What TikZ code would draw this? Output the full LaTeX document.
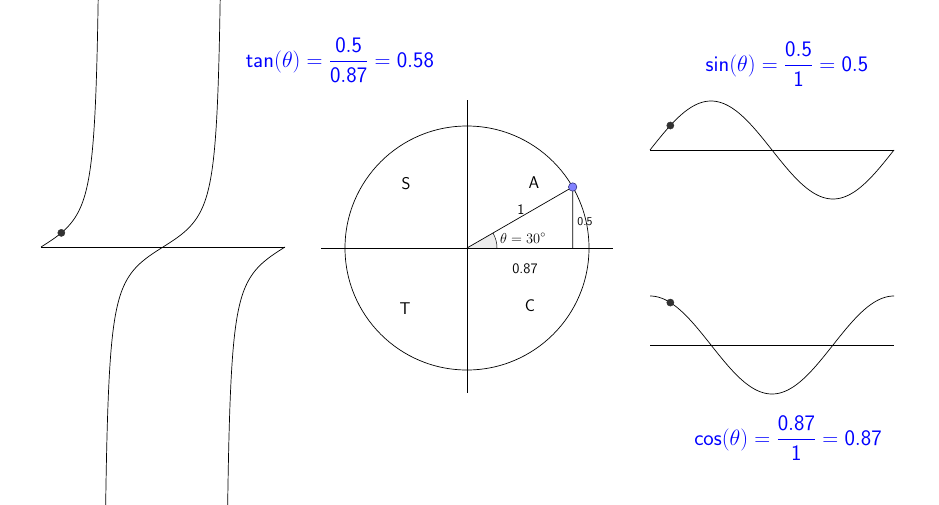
\documentclass[tikz,border=0pt]{standalone}
\usepackage{graphicx}
\usepackage{amsmath}
\usetikzlibrary{calc}
\definecolor{lbl}{RGB}{0,0,255}
\definecolor{ptfill}{RGB}{130,130,255}
\definecolor{ptdraw}{RGB}{50,50,130}
\definecolor{dotc}{RGB}{50,50,50}
\begin{document}
\begin{tikzpicture}[x=1pt,y=-1pt,
  axisline/.style={black,line width=0.8pt},
  curve/.style={black,line width=0.7pt},
  gdot/.style={fill=dotc,draw=dotc},
  formula/.style={text=lbl,font=\fontsize{20.74}{24}\selectfont,inner sep=0pt},
  quad/.style={font=\sffamily\fontsize{17}{20}\selectfont,inner sep=0pt},
  small/.style={font=\sffamily\fontsize{14.5}{17}\selectfont,inner sep=0pt}]
\fill[white] (0,0) rectangle (939,504);
\useasboundingbox (0,0) rectangle (939,504);

% ---------- unit circle ----------
\coordinate (O) at (467,248);
\coordinate (P) at ({467+122*cos(30)},{248-122*sin(30)});
\coordinate (Q) at ({467+122*cos(30)},248);
\coordinate (R) at (497,248);
\fill[gray!15] (O) -- (R) arc[start angle=0,end angle=-30,radius=30] -- cycle;
\draw[line width=0.5pt] (R) arc[start angle=0,end angle=-30,radius=30];
\draw[axisline] (321,248) -- (613,248);
\draw[axisline] (467,100) -- (467,393);
\draw[curve] (O) circle[radius=122];
\draw[curve] (O) -- (P) -- (Q);
\filldraw[fill=ptfill,draw=ptdraw,line width=0.6pt] (P) circle[radius=4.2];

\node[quad] (S) at (406,184) {S};
\node[quad] (A) at (534,183) {A};
\node[quad] (T) at (405,309) {T};
\node[quad] (C) at (530,306) {C};
\node[small] (one) at (521,210) {1};
\node[font=\sffamily\fontsize{12}{14}\selectfont,inner sep=0pt] (half) at (585,222) {0.5};
\node[small] (cosv) at (525,269) {0.87};
\node[inner sep=0pt,font=\fontsize{14.5}{17}\selectfont] (ang) at (523,238) {$\theta = 30^{\circ}$};

% ---------- tan graph ----------
\draw[axisline] (41,247) -- (285,247);
\begin{scope}
\clip (0,0) rectangle (939,504);
\draw[curve] plot[domain=0:86,samples=120,smooth] ({41+\x*0.677778},{247-24.5*tan(\x)});
\draw[curve] plot[domain=94:266,samples=200,smooth] ({41+\x*0.677778},{247-24.5*tan(\x)});
\draw[curve] plot[domain=274:360,samples=120,smooth] ({41+\x*0.677778},{247-24.5*tan(\x)});
\end{scope}
\fill[gdot] ({41+30*0.677778},{247-24.5*tan(30)}) circle[radius=3.6];

% ---------- sin graph ----------
\draw[axisline] (650,150) -- (894,150);
\draw[curve] plot[domain=0:360,samples=120,smooth] ({650+\x*0.677778},{150-49*sin(\x)});
\fill[gdot] ({650+30*0.677778},{150-49*sin(30)}) circle[radius=3.6];

% ---------- cos graph ----------
\draw[axisline] (650,345) -- (894,345);
\draw[curve] plot[domain=0:360,samples=120,smooth] ({650+\x*0.677778},{345-49*cos(\x)});
\fill[gdot] ({650+30*0.677778},{345-49*cos(30)}) circle[radius=3.6];

% ---------- formulas ----------
\node[formula] (tanf) at (340,60) {\scalebox{1.067}{$\displaystyle \mathsf{tan}(\theta)=\frac{\mathsf{0.5}}{\mathsf{0.87}}=\mathsf{0.58}$}};
\node[formula] (sinf) at (787,64) {\scalebox{1.067}{$\displaystyle \mathsf{sin}(\theta)=\frac{\mathsf{0.5}}{\mathsf{1}}=\mathsf{0.5}$}};
\node[formula] (cosf) at (788,438) {\scalebox{1.067}{$\displaystyle \mathsf{cos}(\theta)=\frac{\mathsf{0.87}}{\mathsf{1}}=\mathsf{0.87}$}};
\end{tikzpicture}
\end{document}
